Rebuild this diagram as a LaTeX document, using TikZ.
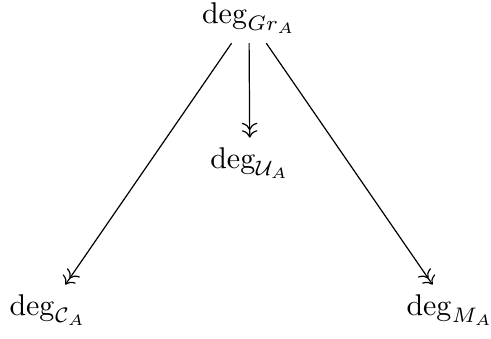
\documentclass[tikz,border=0pt]{standalone}
\usetikzlibrary{arrows.meta, positioning}

\begin{document}
\begin{tikzpicture}[
    x=1pt, y=1pt,
    >={Computer Modern Rightarrow},
    degnode/.style={inner sep=3pt, anchor=center},
    mapline/.style={->>, line width=0.4pt}
]
\useasboundingbox (0,0) rectangle (163.7,113);

% --- nodes ---
\node[degnode] (GR) at (83,107) {$\deg_{Gr_A}$};
\node[degnode] (UA) at (83.3,58.7) {$\deg_{\mathcal{U}_A}$};
\node[degnode] (CA) at (16,9.7) {$\deg_{\mathcal{C}_A}$};
\node[degnode] (MA) at (150,9.7) {$\deg_{M_A}$};

% --- maps ---
\draw[mapline] (GR) -- (CA);
\draw[mapline] (GR) -- (UA);
\draw[mapline] (GR) -- (MA);

\end{tikzpicture}
\end{document}
